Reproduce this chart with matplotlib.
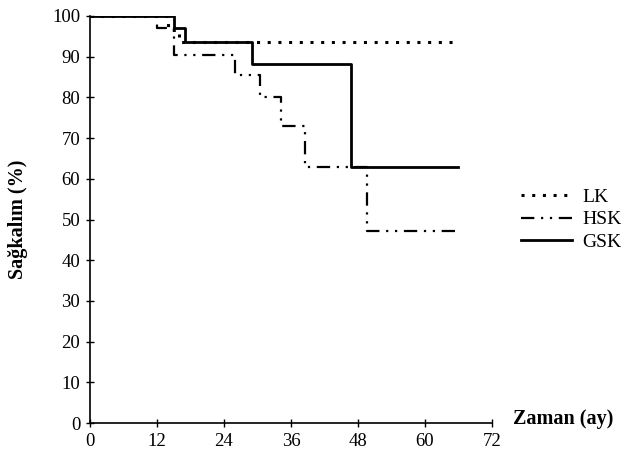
import matplotlib.pyplot as plt

plt.rcParams['font.family'] = ['Liberation Serif', 'DejaVu Serif']

# Kaplan-Meier step points (months, survival %)
lk_t = [0, 14, 16, 66]
lk_s = [100, 96.5, 93.5, 93.5]

hsk_t = [0, 12, 15, 26, 30.5, 34.3, 38.5, 49.7, 66]
hsk_s = [100, 97, 90.5, 85.5, 80.2, 73, 62.8, 47.2, 47.2]

gsk_t = [0, 15, 17, 29, 46.7, 66]
gsk_s = [100, 97, 93.5, 88.2, 63, 63]

xticks = [0, 12, 24, 36, 48, 60, 72]
yticks = list(range(0, 101, 10))

fig = plt.figure(figsize=(6.29, 4.54), dpi=100)
ax = fig.add_axes([0.143, 0.068, 0.639, 0.897])

ax.step(lk_t, lk_s, where='post', color='black', lw=2.2,
        linestyle=(0, (1, 2.5)), label='LK')
ax.step(hsk_t, hsk_s, where='post', color='black', lw=1.6,
        linestyle=(0, (6, 3, 1, 3, 1, 3)), label='HSK')
ax.step(gsk_t, gsk_s, where='post', color='black', lw=2.0,
        linestyle='-', label='GSK')

ax.set_xlim(0, 72)
ax.set_ylim(0, 100)
ax.set_xticks(xticks)
ax.set_yticks(yticks)
ax.tick_params(direction='inout', length=6, width=1, labelsize=13.5, pad=4)

for s in ['top', 'right']:
    ax.spines[s].set_visible(False)
ax.spines['left'].set_linewidth(1.2)
ax.spines['bottom'].set_linewidth(1.2)

ax.set_ylabel('Sağkalım (%)', fontsize=14.5, fontweight='bold', labelpad=17)
ax.text(1.053, 0.01, 'Zaman (ay)', transform=ax.transAxes, fontsize=14.5,
        fontweight='bold', ha='left', va='center')

ax.legend(loc='center left', bbox_to_anchor=(1.03, 0.5), frameon=False,
          fontsize=14, handlelength=2.6, labelspacing=0.25, handletextpad=0.55)

fig.savefig('out.png', dpi=100)
